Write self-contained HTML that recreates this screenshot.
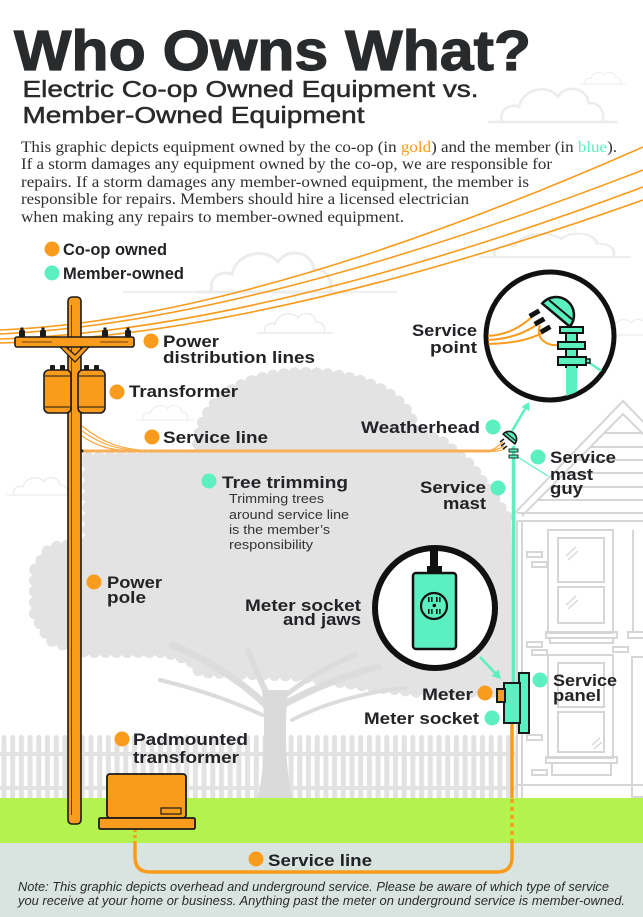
<!DOCTYPE html>
<html><head><meta charset="utf-8">
<style>
html,body{margin:0;padding:0;background:#fff;}
svg{display:block;}
.b{font-family:"Liberation Sans",sans-serif;font-weight:bold;fill:#222326;font-size:17px;}
.r{font-family:"Liberation Sans",sans-serif;fill:#333;font-size:13px;}
</style></head><body>
<svg width="643" height="917" viewBox="0 0 643 917" xmlns="http://www.w3.org/2000/svg">
<defs>
<pattern id="pk" x="0" y="733" width="8.7" height="70" patternUnits="userSpaceOnUse">
<path d="M1.5,70 L1.5,4 Q4,-0.5 6.5,4 L6.5,70 Z" fill="#e2e2e2"/>
</pattern>
<clipPath id="c1"><circle cx="550" cy="336" r="62"/></clipPath>
<path id="cl" d="M0,0 C-2,-7 4,-11 10,-9 C12,-19 26,-23 33,-15 C37,-22 50,-21 51,-11 C57,-12 61,-6 59,0 M-8,0 L68,0"/>
</defs>
<rect width="643" height="917" fill="#fff"/>

<!-- clouds -->
<g fill="none" stroke="#ececec" stroke-width="1.5">
<use href="#cl" transform="translate(502,122) scale(1.7)"/>
<use href="#cl" transform="translate(585,84) scale(0.6)"/>
<use href="#cl" transform="translate(212,292) scale(2)"/>
<line x1="123" y1="292" x2="397" y2="292"/>
<use href="#cl" transform="translate(265,333) scale(1)"/>
<use href="#cl" transform="translate(143,420) scale(0.75)"/>
<use href="#cl" transform="translate(14,495) scale(0.9)"/>
<use href="#cl" transform="translate(495,257) scale(2,1.2)"/>
<use href="#cl" transform="translate(605,335) scale(0.8)"/>
</g>

<!-- tree canopy -->
<path d="M88,458 L198,455 C195,395 250,373 305,373 C360,373 412,395 414,432 L440,440 L470,465 L492,495 L512,525 L512,680 L495,692 L420,692 L367,686 L300,676 L200,672 L190,660 L165,652 L85,652 L50,640 L35,615 L35,570 L50,548 L88,542 Z" fill="#e3e3e3"/>
<path d="M88,458 L198,455 C195,395 250,373 305,373 C360,373 412,395 414,432 L440,440 L470,465 L492,495 L512,525 L512,680 L495,692 L420,692 L367,686 L300,676 L200,672 L190,660 L165,652 L85,652 L50,640 L35,615 L35,570 L50,548 L88,542 Z" fill="none" stroke="#e3e3e3" stroke-width="12" stroke-dasharray="0 11" stroke-linecap="round"/>

<!-- fence -->
<rect x="0" y="733" width="517" height="65" fill="url(#pk)"/>
<rect x="0" y="752" width="517" height="4" fill="#e2e2e2"/>
<rect x="0" y="786" width="517" height="4" fill="#e2e2e2"/>

<!-- trunk & branches -->
<g fill="none" stroke="#dcdcdc" stroke-linecap="round">
<path d="M266,705 C245,685 210,660 172,645" stroke-width="7"/>
<path d="M270,700 C262,685 255,668 248,650" stroke-width="6"/>
<path d="M283,705 C310,690 345,675 378,667" stroke-width="7"/>
<path d="M286,695 C305,680 330,665 355,655" stroke-width="5"/>
<path d="M292,720 C330,700 380,690 405,688" stroke-width="4"/>
<path d="M262,715 C230,700 200,690 160,680" stroke-width="4"/>
</g>
<path d="M262,690 C266,730 264,770 258,798 L292,798 C286,770 284,730 288,690 Z" fill="#dadada"/>

<!-- house -->
<polygon points="511,520 623,399 660,438 660,800 517,800" fill="#fff"/>
<g fill="none" stroke="#d6d6d6" stroke-width="2">
<path d="M512,516 L623,401 L650,429"/>
<path d="M522,516 L623,414 L650,441"/>
<line x1="604" y1="433" x2="643" y2="433"/>
<line x1="590" y1="447" x2="643" y2="447"/>
<line x1="577" y1="460" x2="643" y2="460"/>
<line x1="564" y1="473" x2="643" y2="473"/>
<line x1="550" y1="487" x2="643" y2="487"/>
<line x1="537" y1="500" x2="643" y2="500"/>
<line x1="517" y1="513" x2="643" y2="513"/>
<line x1="517" y1="521" x2="643" y2="521"/>
<line x1="517" y1="521" x2="517" y2="798"/>
<line x1="522" y1="521" x2="522" y2="798"/>
<rect x="548" y="530" width="65" height="103"/>
<rect x="558" y="538" width="46" height="44"/>
<rect x="558" y="587" width="46" height="36"/>
<rect x="546" y="632" width="71" height="6"/>
<rect x="550" y="638" width="63" height="5"/>
<rect x="548" y="655" width="65" height="103"/>
<rect x="558" y="663" width="46" height="44"/>
<rect x="558" y="712" width="46" height="40"/>
<rect x="546" y="757" width="71" height="6"/>
<rect x="552" y="763" width="59" height="12"/>
<line x1="633" y1="530" x2="633" y2="633"/>
<rect x="628" y="632" width="20" height="6"/>
<rect x="632" y="657" width="14" height="140"/>
<rect x="527" y="552" width="15" height="5"/>
<rect x="532" y="562" width="15" height="5"/>
<rect x="527" y="642" width="15" height="5"/>
<rect x="532" y="650" width="15" height="5"/>
<rect x="613" y="647" width="15" height="5"/>
<rect x="527" y="735" width="15" height="5"/>
<rect x="532" y="770" width="15" height="5"/>
<line x1="517" y1="785" x2="643" y2="785"/>
</g>
<g stroke="#d6d6d6" stroke-width="1.2">
<line x1="566" y1="556" x2="576" y2="547"/><line x1="568" y1="560" x2="578" y2="551"/>
<line x1="566" y1="605" x2="576" y2="596"/><line x1="568" y1="609" x2="578" y2="600"/>
<line x1="592" y1="745" x2="600" y2="738"/><line x1="594" y1="749" x2="602" y2="742"/>
</g>

<!-- ground -->
<rect x="0" y="798" width="643" height="45" fill="#b4f24e"/>
<rect x="0" y="843" width="643" height="74" fill="#d9e4e0"/>

<!-- power distribution lines -->
<g fill="none" stroke="#F99B1C" stroke-width="1.6">
<path d="M0,330 Q250,320 643,147"/>
<path d="M0,334 Q250,322 643,170"/>
<path d="M0,339 Q260,330 643,187"/>
<path d="M0,343 Q260,336 643,200"/>
</g>

<!-- pole -->
<rect x="68" y="297" width="13" height="527" rx="4" fill="#F99B1C" stroke="#1a1a1a" stroke-width="1.6"/>
<line x1="71.5" y1="305" x2="71.5" y2="815" stroke="#3a2a10" stroke-width="0.8"/>
<rect x="15" y="337" width="119" height="10" rx="2" fill="#F99B1C" stroke="#1a1a1a" stroke-width="1.6"/>
<line x1="22" y1="342" x2="52" y2="342" stroke="#3a2a10" stroke-width="0.8"/>
<line x1="100" y1="342" x2="128" y2="342" stroke="#3a2a10" stroke-width="0.8"/>
<g fill="#1a1a1a">
<rect x="19" y="330" width="6" height="7" rx="1.5"/><rect x="20.5" y="327.5" width="3" height="3"/>
<rect x="40" y="330" width="6" height="7" rx="1.5"/><rect x="41.5" y="327.5" width="3" height="3"/>
<rect x="102" y="330" width="6" height="7" rx="1.5"/><rect x="103.5" y="327.5" width="3" height="3"/>
<rect x="125" y="330" width="6" height="7" rx="1.5"/><rect x="126.5" y="327.5" width="3" height="3"/>
</g>
<polygon points="60,347 75,362 89,347 83,347 75,355 66,347" fill="#F99B1C" stroke="#1a1a1a" stroke-width="1.2"/>
<g fill="#1a1a1a">
<rect x="50" y="365" width="5" height="6" rx="1"/><rect x="60" y="365" width="5" height="6" rx="1"/>
<rect x="84" y="365" width="5" height="6" rx="1"/><rect x="94" y="365" width="5" height="6" rx="1"/>
</g>
<rect x="44" y="370" width="27" height="43" rx="5" fill="#F99B1C" stroke="#1a1a1a" stroke-width="1.6"/>
<rect x="78" y="370" width="27" height="43" rx="5" fill="#F99B1C" stroke="#1a1a1a" stroke-width="1.6"/>
<g stroke="#1a1a1a" stroke-width="1">
<line x1="45" y1="376" x2="70" y2="376"/><line x1="45" y1="407" x2="70" y2="407"/>
<line x1="79" y1="376" x2="104" y2="376"/><line x1="79" y1="407" x2="104" y2="407"/>
</g>

<!-- overhead service line -->
<g fill="none" stroke="#F9A53A" stroke-width="1.2">
<path d="M82,426 C100,440 115,449 150,451"/>
<path d="M82,431 C98,442 112,449 140,451"/>
<path d="M82,436 C95,445 108,450 130,451"/>
<path d="M488,451 C494,450 498,446 503,442"/>
<path d="M486,451 C494,451 499,449 504,446"/>
<path d="M486,451 C495,452 500,451 505,449"/>
</g>
<line x1="82" y1="451" x2="490" y2="451" stroke="#F8AE55" stroke-width="3"/>
<circle cx="82" cy="451" r="1.5" fill="#222"/>

<!-- underground service line -->
<g fill="none" stroke="#F99B1C" stroke-width="3.5">
<path d="M135,843 L135,857 Q135,872 150,872 L497,872 Q512,872 512,857 L512,843"/>
<path d="M135,829 L135,843" stroke-dasharray="3 3"/>
<path d="M512,843 L512,798" stroke-dasharray="4 4"/>
<path d="M512,798 L512,723"/>
</g>

<!-- padmount transformer -->
<rect x="107" y="774" width="79" height="44" rx="3" fill="#F99B1C" stroke="#1a1a1a" stroke-width="1.8"/>
<rect x="99" y="818" width="96" height="11" rx="1.5" fill="#F99B1C" stroke="#1a1a1a" stroke-width="1.8"/>
<rect x="161" y="808" width="20" height="6" fill="#F99B1C" stroke="#1a1a1a" stroke-width="1.2"/>

<!-- service mast + weatherhead -->
<line x1="513.5" y1="446" x2="513.5" y2="684" stroke="#5BF0C0" stroke-width="3.5"/>
<line x1="516" y1="456" x2="548" y2="476" stroke="#5BF0C0" stroke-width="1.2"/>
<rect x="509" y="449" width="9" height="3" fill="#5BF0C0" stroke="#1a1a1a" stroke-width="0.9"/>
<rect x="509" y="455" width="9" height="3" fill="#5BF0C0" stroke="#1a1a1a" stroke-width="0.9"/>
<g transform="translate(509,439) rotate(40) scale(0.42)">
<path d="M-18,0 A18,18 0 0 1 18,0 Z" fill="#5BF0C0" stroke="#1a1a1a" stroke-width="4"/>
<line x1="-15" y1="-7" x2="15" y2="-7" stroke="#1a1a1a" stroke-width="3"/>
</g>
<g stroke="#1a1a1a" stroke-width="1.6">
<line x1="500" y1="442" x2="504" y2="439"/><line x1="501" y1="446" x2="505" y2="443"/><line x1="503" y1="449" x2="507" y2="446"/>
</g>

<!-- arrows -->
<line x1="512" y1="431" x2="525" y2="409" stroke="#5BF0C0" stroke-width="2.5"/>
<polygon points="529,402 529.5,411 521.5,407" fill="#5BF0C0"/>
<line x1="480" y1="657" x2="496" y2="674" stroke="#5BF0C0" stroke-width="2.5"/>
<polygon points="501,679 498.5,669.5 491.5,676" fill="#5BF0C0"/>

<!-- meter assembly -->
<rect x="519" y="673" width="10" height="60" fill="#5BF0C0" stroke="#1a1a1a" stroke-width="2"/>
<rect x="504" y="683" width="16" height="40" fill="#5BF0C0" stroke="#1a1a1a" stroke-width="2"/>
<rect x="497" y="689" width="8" height="13" fill="#F99B1C" stroke="#1a1a1a" stroke-width="2"/>

<!-- service point circle -->
<circle cx="550" cy="336" r="64" fill="#fff" stroke="#111" stroke-width="5"/>
<g clip-path="url(#c1)">
<g fill="none" stroke="#F99B1C" stroke-width="2">
<path d="M484,336 C505,336 520,328 533,316"/>
<path d="M484,340 C508,340 525,333 538,324"/>
<path d="M484,344 C510,344 530,340 544,332"/>
<path d="M540,325 C535,340 548,346 558,345"/>
</g>
<rect x="566" y="327" width="11" height="90" fill="#5BF0C0"/>
<line x1="566" y1="327" x2="566" y2="368" stroke="#111" stroke-width="2"/>
<line x1="577" y1="327" x2="577" y2="368" stroke="#111" stroke-width="2"/>
<line x1="588" y1="362" x2="615" y2="380" stroke="#5BF0C0" stroke-width="2.5"/>
<rect x="560" y="327" width="23" height="6" fill="#5BF0C0" stroke="#111" stroke-width="2"/>
<rect x="558" y="342" width="27" height="7" fill="#5BF0C0" stroke="#111" stroke-width="2"/>
<rect x="558" y="357" width="28" height="8" fill="#5BF0C0" stroke="#111" stroke-width="2"/>
<rect x="586" y="359" width="4" height="4" fill="#5BF0C0" stroke="#111" stroke-width="1.5"/>
<g transform="translate(556,315) rotate(40)">
<path d="M-18,0 A18,18 0 0 1 18,0 Z" fill="#5BF0C0" stroke="#111" stroke-width="2.5"/>
<line x1="-15" y1="-7" x2="15" y2="-7" stroke="#111" stroke-width="2"/>
</g>
<g fill="#111">
<rect x="529" y="311" width="11" height="5" transform="rotate(-30 534.5 313.5)"/>
<rect x="534" y="319" width="11" height="5" transform="rotate(-30 539.5 321.5)"/>
<rect x="540" y="327" width="11" height="5" transform="rotate(-30 545.5 329.5)"/>
</g>
</g>

<!-- meter socket circle -->
<circle cx="435" cy="608" r="60" fill="#fff" stroke="#111" stroke-width="6"/>
<rect x="430" y="549" width="8" height="20" fill="#111"/>
<rect x="427" y="566" width="15" height="8" fill="#111"/>
<rect x="413" y="573" width="43" height="76" rx="3" fill="#5BF0C0" stroke="#111" stroke-width="2.5"/>
<circle cx="434" cy="606" r="13" fill="#5BF0C0" stroke="#111" stroke-width="2.2"/>
<g fill="#111">
<rect x="428" y="597" width="1.6" height="5"/><rect x="431" y="597" width="1.6" height="5"/>
<rect x="436" y="597" width="1.6" height="5"/><rect x="439" y="597" width="1.6" height="5"/>
<rect x="428" y="609" width="1.6" height="5"/><rect x="431" y="609" width="1.6" height="5"/>
<rect x="436" y="609" width="1.6" height="5"/><rect x="439" y="609" width="1.6" height="5"/>
<circle cx="434.3" cy="605.5" r="1.8"/>
</g>

<!-- title -->
<text x="14" y="70" font-family="Liberation Sans, sans-serif" font-weight="bold" font-size="57" fill="#282a2c" stroke="#282a2c" stroke-width="1.2" textLength="517" lengthAdjust="spacingAndGlyphs">Who Owns What?</text>
<g font-family="Liberation Sans, sans-serif" font-size="23" fill="#2a2a2a" stroke="#2a2a2a" stroke-width="0.5">
<text x="22.5" y="97" textLength="456" lengthAdjust="spacingAndGlyphs">Electric Co-op Owned Equipment vs.</text>
<text x="22.5" y="123" textLength="342" lengthAdjust="spacingAndGlyphs">Member-Owned Equipment</text>
</g>
<g font-family="Liberation Serif, serif" font-size="16" fill="#2e2e2e">
<text x="21" y="152" textLength="596" lengthAdjust="spacingAndGlyphs">This graphic depicts equipment owned by the co-op (in <tspan fill="#F99B1C">gold</tspan>) and the member (in <tspan fill="#5CEFC0">blue</tspan>).</text>
<text x="21" y="169" textLength="531" lengthAdjust="spacingAndGlyphs">If a storm damages any equipment owned by the co-op, we are responsible for</text>
<text x="21" y="187" textLength="508" lengthAdjust="spacingAndGlyphs">repairs. If a storm damages any member-owned equipment, the member is</text>
<text x="21" y="204" textLength="448" lengthAdjust="spacingAndGlyphs">responsible for repairs. Members should hire a licensed electrician</text>
<text x="21" y="222" textLength="383" lengthAdjust="spacingAndGlyphs">when making any repairs to member-owned equipment.</text>
</g>

<!-- dots -->
<g fill="#F99B1C">
<circle cx="52" cy="249" r="7.5"/><circle cx="151" cy="341" r="7.5"/><circle cx="117" cy="392" r="7.5"/>
<circle cx="152" cy="437" r="7.5"/><circle cx="94" cy="582" r="7.5"/><circle cx="485" cy="693" r="7.5"/>
<circle cx="122" cy="739" r="7.5"/><circle cx="256" cy="859" r="7.5"/>
</g>
<g fill="#5CEFC0">
<circle cx="52" cy="273" r="7.5"/><circle cx="493" cy="427" r="7.5"/><circle cx="538" cy="457" r="7.5"/>
<circle cx="498" cy="488" r="7.5"/><circle cx="209" cy="481" r="7.5"/><circle cx="492" cy="718" r="7.5"/>
<circle cx="540" cy="680" r="7.5"/>
</g>

<!-- labels -->
<text class="b" x="63" y="255" textLength="104" lengthAdjust="spacingAndGlyphs">Co-op owned</text>
<text class="b" x="63" y="279" textLength="121" lengthAdjust="spacingAndGlyphs">Member-owned</text>
<text class="b" x="163" y="347" textLength="56" lengthAdjust="spacingAndGlyphs">Power</text>
<text class="b" x="163" y="363" textLength="152" lengthAdjust="spacingAndGlyphs">distribution lines</text>
<text class="b" x="129" y="397" textLength="109" lengthAdjust="spacingAndGlyphs">Transformer</text>
<text class="b" x="163" y="443" textLength="105" lengthAdjust="spacingAndGlyphs">Service line</text>
<text class="b" x="361" y="433" textLength="119" lengthAdjust="spacingAndGlyphs">Weatherhead</text>
<text class="b" x="412" y="336" textLength="65" lengthAdjust="spacingAndGlyphs">Service</text>
<text class="b" x="430" y="353" textLength="47" lengthAdjust="spacingAndGlyphs">point</text>
<text class="b" x="550" y="463" textLength="66" lengthAdjust="spacingAndGlyphs">Service</text>
<text class="b" x="550" y="480" textLength="43" lengthAdjust="spacingAndGlyphs">mast</text>
<text class="b" x="550" y="494" textLength="33" lengthAdjust="spacingAndGlyphs">guy</text>
<text class="b" x="420" y="493" textLength="66" lengthAdjust="spacingAndGlyphs">Service</text>
<text class="b" x="443" y="509" textLength="43" lengthAdjust="spacingAndGlyphs">mast</text>
<text class="b" x="222" y="488" font-size="18" textLength="126" lengthAdjust="spacingAndGlyphs">Tree trimming</text>
<text class="r" x="229" y="503" textLength="95" lengthAdjust="spacingAndGlyphs">Trimming trees</text>
<text class="r" x="229" y="519" textLength="120" lengthAdjust="spacingAndGlyphs">around service line</text>
<text class="r" x="229" y="534" textLength="101" lengthAdjust="spacingAndGlyphs">is the member’s</text>
<text class="r" x="229" y="549" textLength="84" lengthAdjust="spacingAndGlyphs">responsibility</text>
<text class="b" x="107" y="588" textLength="55" lengthAdjust="spacingAndGlyphs">Power</text>
<text class="b" x="107" y="603" textLength="39" lengthAdjust="spacingAndGlyphs">pole</text>
<text class="b" x="245" y="611" textLength="116" lengthAdjust="spacingAndGlyphs">Meter socket</text>
<text class="b" x="283" y="625" textLength="78" lengthAdjust="spacingAndGlyphs">and jaws</text>
<text class="b" x="422" y="700" textLength="51" lengthAdjust="spacingAndGlyphs">Meter</text>
<text class="b" x="364" y="724" textLength="115" lengthAdjust="spacingAndGlyphs">Meter socket</text>
<text class="b" x="553" y="686" textLength="64" lengthAdjust="spacingAndGlyphs">Service</text>
<text class="b" x="553" y="701" textLength="48" lengthAdjust="spacingAndGlyphs">panel</text>
<text class="b" x="133" y="745" textLength="115" lengthAdjust="spacingAndGlyphs">Padmounted</text>
<text class="b" x="133" y="763" textLength="106" lengthAdjust="spacingAndGlyphs">transformer</text>
<text class="b" x="268" y="866" textLength="104" lengthAdjust="spacingAndGlyphs">Service line</text>

<!-- note -->
<g font-family="Liberation Sans, sans-serif" font-style="italic" font-size="12.5" fill="#2b2b2b">
<text x="18" y="891" textLength="591" lengthAdjust="spacingAndGlyphs">Note: This graphic depicts overhead and underground service. Please be aware of which type of service</text>
<text x="18" y="905" textLength="607" lengthAdjust="spacingAndGlyphs">you receive at your home or business. Anything past the meter on underground service is member-owned.</text>
</g>
</svg>
</body></html>
